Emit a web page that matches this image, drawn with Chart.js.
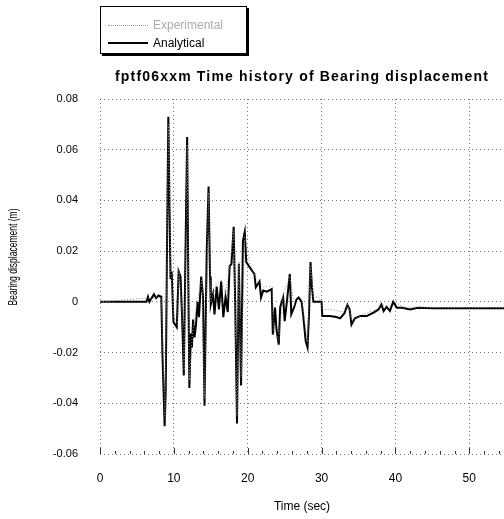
<!DOCTYPE html>
<html>
<head>
<meta charset="utf-8">
<script src="https://cdn.jsdelivr.net/npm/chart.js@4.4.1/dist/chart.umd.min.js"></script>
<style>
  body { margin: 0; background: #fff; }
  #wrap { position: relative; width: 504px; height: 519px; }
  #chart { position: absolute; left: 0; top: 0; }
  #legend {
    position: absolute; left: 100px; top: 6px; width: 145px; height: 46px;
    border: 1px solid #000; box-shadow: 2px 2px 0 #000; background: #fff;
    font-family: 'Liberation Sans', Arial, sans-serif; font-size: 12px; z-index: 2;
  }
  .row { position: absolute; left: 7px; height: 14px; display: flex; align-items: center; }
  .swatch { width: 40px; height: 0; margin-right: 5px; }
</style>
</head>
<body>
<div id="wrap">
  <canvas id="chart" width="504" height="519"></canvas>
  <div id="legend">
    <div class="row" style="top:11px;color:#aaa;">
      <span class="swatch" style="border-top:1px dotted #999;"></span>Experimental
    </div>
    <div class="row" style="top:29px;color:#000;">
      <span class="swatch" style="border-top:2px solid #000;"></span>Analytical
    </div>
  </div>
</div>
<script>
// time (sec) and bearing displacement (m)
const times = [
  0, 6.3, 6.5, 6.7, 7.0, 7.3, 7.6, 7.9, 8.3, 8.45,
  8.75, 8.9, 9.1, 9.25, 9.4, 9.55, 9.7, 9.95, 10.4, 10.65,
  10.9, 11.1, 11.35, 11.55, 11.8, 11.95, 12.1, 12.3, 12.45, 12.6,
  12.8, 13.0, 13.2, 13.4, 13.7, 13.95, 14.15, 14.45, 14.7, 14.9,
  15.0, 15.3, 15.5, 15.8, 16.1, 16.4, 16.7, 17.0, 17.3, 17.55,
  17.8, 18.1, 18.3, 18.55, 18.8, 19.1, 19.35, 19.6, 19.8, 20.25,
  20.9, 21.1, 21.6, 21.8, 22.1, 22.6, 23.25, 23.4, 23.7, 23.9,
  24.2, 24.4, 24.8, 25.0, 25.3, 25.7, 25.9, 26.3, 26.6, 26.9,
  27.3, 27.5, 27.85, 28.1, 28.3, 28.5, 28.7, 28.9, 29.5, 30.0,
  30.1, 31.1, 32.0, 32.5, 33.1, 33.5, 33.8, 34.05, 34.5, 35.2,
  36.1, 37.0, 37.7, 38.1, 38.4, 38.8, 39.25, 39.7, 40.2, 40.9,
  42.0, 43, 45, 50, 55
];
const analytical = [
  0, 0, 0.002, 0, 0.0015, 0.003, 0.0015, 0.0025, 0.002, -0.02,
  -0.049, -0.035, 0.03, 0.073, 0.04, 0.009, 0.012, -0.008, -0.01, 0.012,
  0.01, -0.005, -0.029, 0.015, 0.065, 0.01, -0.034, -0.0125, -0.018, -0.007,
  -0.014, -0.009, 0, -0.006, 0.01, 0.002, -0.041, 0.02, 0.0455, 0.01,
  -0.001, 0.003, -0.005, 0.006, -0.003, 0.008, -0.006, 0.002, -0.004, 0.014,
  0.015, 0.0296, 0, -0.048, 0.015, -0.033, 0.024, 0.0276, 0.0157, 0.0137,
  0.011, 0.0057, 0.008, 0.0017, 0.0045, 0.004, 0.005, -0.0129, -0.0023, -0.011,
  -0.0169, -0.002, 0.0017, -0.0076, 0, 0.011, -0.0049, -0.002, 0.0009, 0.0017,
  0, -0.005, -0.0155, -0.018, -0.005, 0.0157, 0.0057, 0, 0, 0,
  -0.0056, -0.0056, -0.006, -0.0065, -0.0045, -0.0012, -0.003, -0.009, -0.0065, -0.0056,
  -0.0056, -0.0043, -0.003, -0.001, -0.0036, -0.002, -0.0036, 0, -0.0023, -0.0023,
  -0.003, -0.0023, -0.0025, -0.0025, -0.0025
];
const expTimes = [
  0, 6.5, 7.0, 7.5, 8.3, 8.5, 8.8, 9.1, 9.25, 9.45,
  9.6, 10.0, 10.5, 10.7, 11.1, 11.4, 11.8, 12.1, 12.5, 13.2,
  13.8, 14.15, 14.7, 15.0, 15.8, 16.4, 17.0, 17.6, 18.1, 18.55,
  18.8, 19.1, 19.6, 20.3, 21.2, 22.2, 23.3, 23.5, 24.2, 24.8,
  25.7, 26.3, 27.3, 28.1, 28.5, 28.9, 29.6, 30.2, 31.5, 32.8,
  33.5, 34.1, 35.5, 37.5, 38.2, 39.0, 39.7, 41, 45, 55
];
const experimental = [
  0, 0.0015, 0.001, 0.002, 0.0015, -0.018, -0.046, 0.026, 0.07, 0.036,
  0.011, -0.006, -0.009, 0.013, -0.004, -0.027, 0.062, -0.031, -0.013, 0.001,
  0.009, -0.038, 0.043, 0.0, 0.007, 0.009, 0.003, 0.015, 0.028, -0.045,
  0.016, -0.03, 0.026, 0.015, 0.009, 0.006, 0.006, -0.011, -0.015, 0.003,
  0.01, -0.001, 0.001, -0.016, 0.014, 0.002, 0.002, -0.003, -0.003, -0.004,
  -0.001, -0.007, -0.005, -0.003, -0.001, -0.0025, 0.0005, -0.002, -0.0022, -0.0022
];
const xTicks = [0, 10, 20, 30, 40, 50];
const xMinorTicks = [2, 4, 6, 8, 12, 14, 16, 18, 22, 24, 26, 28, 32, 34, 36, 38, 42, 44, 46, 48, 52, 54];
const yTicks = [-0.06, -0.04, -0.02, 0, 0.02, 0.04, 0.06, 0.08];

const chartTitle = 'fptf06xxm Time history of Bearing displacement';
const xTitle = 'Time (sec)';
const yTitle = 'Bearing displacement (m)';
const FONT = "'Liberation Sans', Arial, sans-serif";

// stretch a line of text to a given width
function fitText(c, text, x, y, width) {
  const w = c.measureText(text).width;
  c.save();
  c.translate(x, y);
  c.scale(width / w, 1);
  c.fillText(text, 0, 0);
  c.restore();
}

// title, axis titles and the little bottom ticks
const decorations = {
  id: 'decorations',
  afterDraw(chart) {
    const c = chart.ctx;
    const area = chart.chartArea;
    const xs = chart.scales.x;
    const midX = (area.left + area.right) / 2;
    c.save();
    c.fillStyle = '#000';
    c.textBaseline = 'middle';

    // title: spread out with letter spacing, like the original
    c.font = 'bold 14px ' + FONT;
    const tw = c.measureText(chartTitle).width;
    if ('letterSpacing' in c) {
      c.letterSpacing = ((374 - tw) / chartTitle.length) + 'px';
      c.textAlign = 'left';
      c.fillText(chartTitle, midX - 187, 77);
      c.letterSpacing = '0px';
    } else {
      c.textAlign = 'center';
      fitText(c, chartTitle, midX, 77, 374);
    }

    c.textAlign = 'center';
    c.font = '12px ' + FONT;
    c.fillText(xTitle, midX, 507);

    c.save();
    c.translate(14, 257);
    c.rotate(-Math.PI / 2);
    c.font = '12px ' + FONT;
    fitText(c, yTitle, 0, 0, 97);
    c.restore();

    c.strokeStyle = '#333';
    c.lineWidth = 1;
    c.beginPath();
    xMinorTicks.forEach(v => {
      const px = Math.round(xs.getPixelForValue(v)) + 0.5;
      c.moveTo(px, area.bottom);
      c.lineTo(px, area.bottom - 3);
    });
    xTicks.forEach(v => {
      const px = Math.round(xs.getPixelForValue(v)) + 0.5;
      c.moveTo(px, area.bottom);
      c.lineTo(px, area.bottom - 6);
    });
    c.stroke();
    c.restore();
  }
};

const ctx = document.getElementById('chart').getContext('2d');
new Chart(ctx, {
  type: 'line',
  data: {
    datasets: [{
      label: 'Experimental',
      data: expTimes.map((t, i) => ({ x: t, y: experimental[i] })),
      borderColor: '#8c8c8c',
      borderWidth: 1,
      borderDash: [1, 2],
      pointRadius: 0,
      tension: 0
    }, {
      label: 'Analytical',
      data: times.map((t, i) => ({ x: t, y: analytical[i] })),
      borderColor: '#000',
      borderWidth: 2,
      pointRadius: 0,
      tension: 0
    }]
  },
  options: {
    responsive: false,
    animation: false,
    layout: { padding: { top: 99, left: 0, right: 0, bottom: 0 } },
    plugins: {
      legend: { display: false },
      title: { display: false },
      tooltip: { enabled: false }
    },
    scales: {
      x: {
        type: 'linear',
        min: 0,
        max: 54.7,
        afterBuildTicks: s => { s.ticks = xTicks.map(v => ({ value: v })); },
        afterFit: s => { s.height = 65; },
        grid: { color: 'rgba(0,0,0,0.55)', drawTicks: false, borderDash: [1, 3] },
        border: { display: false, dash: [1, 3] },
        ticks: { color: '#000', padding: 17, font: { family: FONT, size: 12 }, maxRotation: 0 }
      },
      y: {
        min: -0.06,
        max: 0.08,
        afterBuildTicks: s => { s.ticks = yTicks.map(v => ({ value: v })); },
        afterFit: s => { s.width = 100; },
        grid: { color: 'rgba(0,0,0,0.55)', drawTicks: false, borderDash: [1, 3] },
        border: { display: false, dash: [1, 3] },
        ticks: {
          color: '#000',
          padding: 22,
          font: { family: FONT, size: 11 },
          callback: v => String(parseFloat(v.toFixed(2)))
        }
      }
    }
  },
  plugins: [decorations]
});
</script>
</body>
</html>
